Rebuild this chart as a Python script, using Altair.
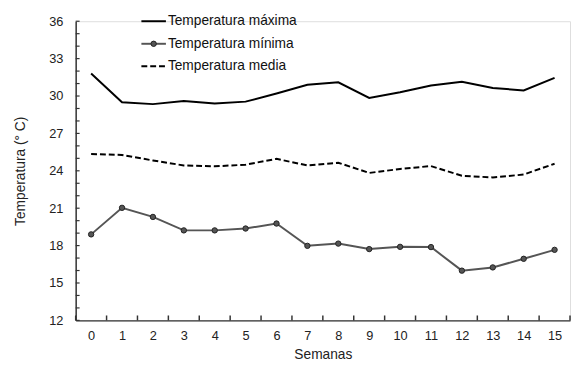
import altair as alt
import pandas as pd

semanas = list(range(16))
t_max = [31.8, 29.5, 29.35, 29.6, 29.4, 29.55, 30.2, 30.9, 31.1, 29.85, 30.3, 30.85, 31.15, 30.65, 30.45, 31.45]
t_min = [18.9, 21.03, 20.3, 19.22, 19.22, 19.37, 19.77, 17.98, 18.16, 17.72, 17.9, 17.88, 15.99, 16.25, 16.94, 17.66]
t_med = [25.35, 25.27, 24.83, 24.43, 24.36, 24.49, 24.96, 24.43, 24.65, 23.83, 24.15, 24.38, 23.6, 23.47, 23.7, 24.57]
series_names = ["Temperatura máxima", "Temperatura mínima", "Temperatura media"]
y_label_values = [12, 15, 18, 21, 24, 27, 30, 33, 36]
y_tick_values = list(range(12, 37))
x_tick_bounds = [i - 0.5 for i in range(17)]

W, H = 504, 305
FONT = "Liberation Sans"
AX = "#333333"

df = pd.DataFrame({"semana": semanas, "max": t_max, "min": t_min, "med": t_med})

xscale = alt.Scale(domain=[-0.5, 15.5], nice=False, zero=False)
yscale = alt.Scale(domain=[12, 36], nice=False, zero=False)

xaxis = alt.Axis(values=semanas, ticks=False, grid=False, domainColor=AX, domainWidth=1.5,
                 labelFontSize=13, labelColor="#222", labelPadding=9, title="Semanas",
                 titleFontSize=14, titleFontWeight="normal", titleColor="#222", titlePadding=6,
                 labelFont=FONT, titleFont=FONT)
yaxis = alt.Axis(values=y_label_values, ticks=False, grid=False, domainColor=AX, domainWidth=1.5,
                 labelFontSize=13, labelColor="#222", labelPadding=13, title="Temperatura (° C)",
                 titleFontSize=14, titleFontWeight="normal", titleColor="#222", titlePadding=22,
                 labelFont=FONT, titleFont=FONT)

def X(f):
    return alt.X(f, scale=xscale, axis=xaxis)

def Y(f):
    return alt.Y(f, scale=yscale, axis=yaxis)

base = alt.Chart(df)

line_max = base.mark_line(color="black", strokeWidth=2).encode(x=X("semana:Q"), y=Y("max:Q"))
line_min = base.mark_line(color="#555555", strokeWidth=2).encode(x=X("semana:Q"), y=Y("min:Q"))
pts_min = base.mark_point(filled=True, size=30, color="#555555", stroke="#222222", strokeWidth=1, opacity=1).encode(
    x=X("semana:Q"), y=Y("min:Q"))
line_med = base.mark_line(color="black", strokeWidth=2, strokeDash=[6, 3]).encode(x=X("semana:Q"), y=Y("med:Q"))

xt = alt.Chart(pd.DataFrame({"b": x_tick_bounds})).mark_rule(color=AX, strokeWidth=1.5).encode(
    x=X("b:Q"), y=alt.value(H), y2=alt.value(H - 5))
yt = alt.Chart(pd.DataFrame({"v": y_tick_values})).mark_rule(color=AX, strokeWidth=1.2).encode(
    y=Y("v:Q"), x=alt.value(0), x2=alt.value(4))

one = pd.DataFrame({"k": [0]})
leg = []
row_y = [0, 23, 46]
lx0, lx1, tx = 67, 92, 94
leg.append(alt.Chart(one).mark_rule(color="black", strokeWidth=2).encode(
    x=alt.value(lx0), x2=alt.value(lx1), y=alt.value(row_y[0])))
leg.append(alt.Chart(one).mark_rule(color="#555555", strokeWidth=2).encode(
    x=alt.value(lx0), x2=alt.value(lx1), y=alt.value(row_y[1])))
leg.append(alt.Chart(one).mark_point(filled=True, size=30, color="#555555", stroke="#222222", strokeWidth=1, opacity=1).encode(
    x=alt.value((lx0 + lx1) / 2), y=alt.value(row_y[1])))
leg.append(alt.Chart(one).mark_rule(color="black", strokeWidth=2, strokeDash=[6, 3]).encode(
    x=alt.value(lx0), x2=alt.value(lx1), y=alt.value(row_y[2])))
for i, name in enumerate(series_names):
    leg.append(alt.Chart(one).mark_text(align="left", baseline="middle", fontSize=14, font=FONT, color="#111").encode(
        x=alt.value(tx), y=alt.value(row_y[i]), text=alt.value(name)))

chart = alt.layer(line_max, line_min, pts_min, line_med, xt, yt, *leg).properties(
    width=W, height=H, padding={"left": 5, "top": 3, "right": 0, "bottom": 0}
).configure_view(stroke=None).configure(background="white")

chart.save("out.html", embed_options={"renderer": "svg", "actions": False})
